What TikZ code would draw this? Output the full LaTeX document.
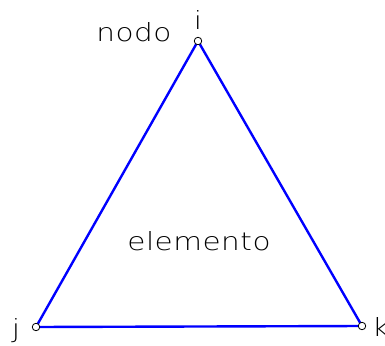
\documentclass[tikz,border=0pt]{standalone}
\usepackage{fontspec}
\newfontfamily\thinfont{DejaVu Sans ExtraLight}[FakeStretch=1.18,LetterSpace=2]
\begin{document}
\begin{tikzpicture}[x=1pt,y=-1pt,
  lbl/.style={font=\thinfont\fontsize{25}{25}\selectfont, inner sep=0pt},
  nd/.style={circle, draw=black, line width=0.8pt, minimum size=7.5pt, inner sep=0pt, fill=white},
  edge/.style={draw=blue, line width=2.4pt}]
\useasboundingbox (0,0) rectangle (385,345);
\coordinate (I) at (198,41);
\coordinate (J) at (36,327);
\coordinate (K) at (362,326);
\draw[edge, line join=round] (I) -- (J) -- (K) -- cycle;
\node[nd] (ni) at (I) {};
\node[nd] (nj) at (J) {};
\node[nd] (nk) at (K) {};
\node[lbl] (ti) at (198,20) {i};
\node[lbl] (tj) at (16,331) {j};
\node[lbl, anchor=west] (tk) at (372,327) {k};
\node[lbl] (tn) at (134,32) {nodo};
\node[lbl] (te) at (199,241) {elemento};
\end{tikzpicture}
\end{document}
